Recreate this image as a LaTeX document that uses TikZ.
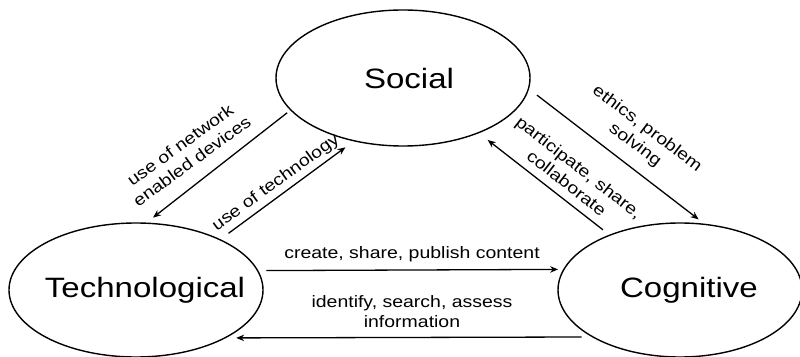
\documentclass[tikz,border=0pt]{standalone}
\usepackage{fontspec}
\setmainfont{Liberation Sans}[FakeStretch=1.18]
\usetikzlibrary{shapes.geometric,arrows.meta}
\begin{document}
\begin{tikzpicture}[x=1pt,y=1pt,
  areabox/.style={ellipse, draw, line width=1.4pt, inner sep=0pt},
  areaname/.style={font=\fontsize{28}{32}\selectfont, inner sep=0pt},
  flow/.style={line width=1.3pt, -{Stealth[length=8pt,width=6.5pt]}},
  tag/.style={font=\fontsize{16.5}{20}\selectfont, align=center, inner sep=0pt}]
\useasboundingbox (0,0) rectangle (800,356);

% the three areas
\node[areabox, minimum width=254pt, minimum height=136pt] (soc)  at (403,278) {};
\node[areabox, minimum width=254pt, minimum height=134pt] (tech) at (136,66)  {};
\node[areabox, minimum width=244pt, minimum height=134pt] (cog)  at (680,66)  {};
\node[areaname] (socname)  at ([xshift=6pt]soc.center)   {Social};
\node[areaname] (techname) at ([xshift=9pt]tech.center)  {Technological};
\node[areaname] (cogname)  at ([xshift=9pt]cog.center)   {Cognitive};

% Social <-> Technological
\draw[flow, shorten <=4pt, shorten >=8pt]  (soc.196) -- (tech.81);
\draw[flow, shorten <=10pt, shorten >=10pt] (tech.31) -- (soc.232);
% Social <-> Cognitive
\draw[flow, shorten <=10pt, shorten >=7pt]  (soc.-5) -- (cog.70);
\draw[flow, shorten <=8pt, shorten >=11pt]  (cog.142) -- (soc.-36);
% Technological <-> Cognitive
\draw[flow, shorten <=8pt, shorten >=5pt]   (tech.9) -- (cog.170);
\draw[flow, shorten <=10pt, shorten >=10pt] (cog.208) -- (tech.-28);

% connector labels
\node[tag, rotate=36]  (lnet)  at (186,203) {use of network\\enabled devices};
\node[tag, rotate=36]  (ltech) at (276,173) {use of technology};
\node[tag, rotate=-37] (leth)  at (641,219) {ethics, problem\\solving};
\node[tag, rotate=-38] (lpart) at (573,181) {participate, share,\\collaborate};
\node[tag]             (lcre)  at (412,102) {create, share, publish content};
\node[tag]             (lid)   at (412,44)  {identify, search, assess\\information};
\end{tikzpicture}
\end{document}
